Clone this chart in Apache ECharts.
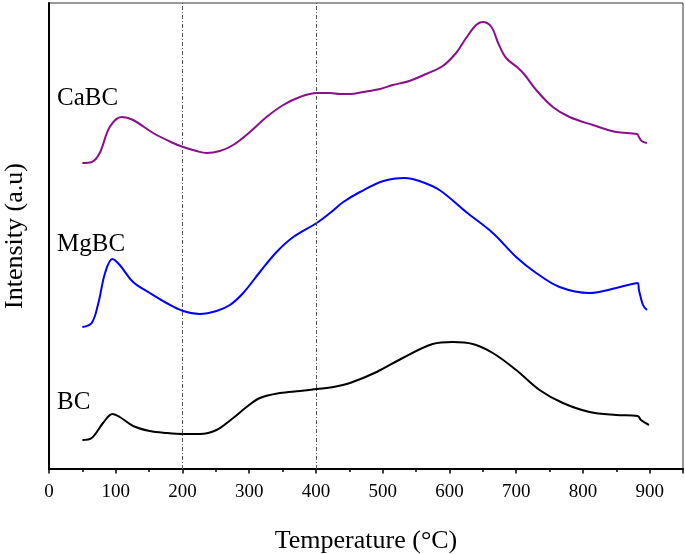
<!DOCTYPE html>
<html>
<head>
<meta charset="utf-8">
<script src="https://cdn.jsdelivr.net/npm/echarts@6/dist/echarts.min.js"></script>
<style>html,body{margin:0;padding:0;background:#fff}#c{width:685px;height:554px}</style>
</head>
<body>
<div id="c"></div>
<script>
// Temperatures (°C) and intensities (arbitrary units)
const caTemp = [50, 64, 76, 91, 109, 126, 156, 186, 201, 221, 236, 256, 276, 301, 326, 351, 376, 401, 421, 436, 451, 471, 496, 515, 540, 565, 590, 610, 625, 640, 650, 663, 673, 685, 703, 713, 730, 755, 780, 815, 850, 881, 884, 888, 896];
const caVal  = [306, 307, 316, 342, 352, 349, 336, 326, 322, 318, 316, 318, 324, 337, 352, 364, 372, 376, 376, 375, 375, 377, 380, 384, 388, 395, 403, 416, 431, 444, 447, 442, 426, 411, 401, 394, 379, 362, 352, 344, 337, 335, 332, 328, 326];

const mgTemp = [50, 64, 74, 84, 95, 106, 126, 151, 176, 201, 226, 251, 271, 291, 316, 341, 366, 401, 421, 441, 466, 501, 533, 555, 585, 625, 665, 700, 730, 765, 810, 850, 882, 884, 890, 896];
const mgVal  = [142, 146, 166, 196, 210, 204, 187, 176, 166, 158, 155, 158, 164, 176, 197, 217, 232, 246, 256, 267, 277, 288, 291, 288, 279, 257, 236, 212, 196, 182, 176, 181, 186, 179, 164, 159];

const bcTemp = [50, 64, 81, 95, 106, 126, 151, 176, 201, 226, 251, 276, 296, 316, 346, 376, 401, 426, 451, 491, 530, 575, 605, 635, 665, 700, 735, 770, 810, 850, 882, 887, 899];
const bcVal  = [29, 31, 46, 55, 52, 43, 38, 36, 35, 35, 39, 51, 62, 71, 76, 78, 80, 82, 86, 97, 111, 125, 127, 125, 116, 99, 79, 66, 57, 54, 53, 49, 44];

const seriesNames = ['CaBC', 'MgBC', 'BC'];
const labelAnchors = [[12, 371], [12, 225], [12, 67]]; // [temperature, intensity] of each series label
const refLines = [200, 400];
const xTicks = [0, 100, 200, 300, 400, 500, 600, 700, 800, 900];

const font = '"Liberation Serif", "Times New Roman", serif';
const zip = (a, b) => a.map((v, i) => [v, b[i]]);
const colors = ['#8a0f8a', '#0000ff', '#000000'];
const datas = [zip(caTemp, caVal), zip(mgTemp, mgVal), zip(bcTemp, bcVal)];

const chart = echarts.init(document.getElementById('c'), null, {renderer: 'canvas'});
const series = datas.map((d, i) => ({
  name: seriesNames[i],
  type: 'line',
  data: d,
  smooth: 0.35,
  showSymbol: false,
  symbol: 'none',
  lineStyle: {color: colors[i], width: 2},
  z: 3,
  markPoint: {
    symbol: 'circle', symbolSize: 0,
    data: [{coord: labelAnchors[i]}],
    label: {show: true, position: 'right', distance: 0, formatter: seriesNames[i], color: '#000', fontFamily: font, fontSize: 25}
  }
}));
series[2].markLine = {
  silent: true, symbol: ['none', 'none'],
  label: {show: false},
  lineStyle: {color: '#555', width: 1, type: [4, 2, 1, 2]},
  data: refLines.map(v => ({xAxis: v}))
};

chart.setOption({
  animation: false,
  backgroundColor: '#fff',
  grid: {left: 49, right: 2, top: 3, bottom: 85, show: true, borderColor: '#333', borderWidth: 1,
    containLabel: false, outerBoundsMode: 'none'},
  xAxis: [{
    type: 'value', min: 0, max: 950, interval: 100,
    name: 'Temperature (°C)', nameLocation: 'middle', nameGap: 59,
    nameTextStyle: {fontFamily: font, fontSize: 26, color: '#000'},
    axisLine: {show: true, onZero: false, lineStyle: {color: '#000', width: 2}},
    axisTick: {show: true, inside: false, length: 4.5, lineStyle: {color: '#000', width: 1.5}},
    axisLabel: {margin: 14, fontFamily: font, fontSize: 19, color: '#000',
      formatter: v => xTicks.indexOf(v) >= 0 ? String(v) : ''},
    splitLine: {show: false}
  }, {
    type: 'value', min: 0, max: 950, interval: 50, position: 'bottom',
    axisLine: {show: false, onZero: false},
    axisTick: {show: true, inside: false, length: 3, lineStyle: {color: '#000', width: 1.5}},
    axisLabel: {show: false},
    splitLine: {show: false}
  }],
  yAxis: {
    type: 'value', min: 0, max: 466,
    name: 'Intensity (a.u)', nameLocation: 'middle', nameGap: 21,
    nameTextStyle: {fontFamily: font, fontSize: 26, color: '#000'},
    axisLine: {show: true, onZero: false, lineStyle: {color: '#000', width: 2}},
    axisTick: {show: false}, axisLabel: {show: false}, splitLine: {show: false}
  },
  series: series
});
</script>
</body>
</html>
